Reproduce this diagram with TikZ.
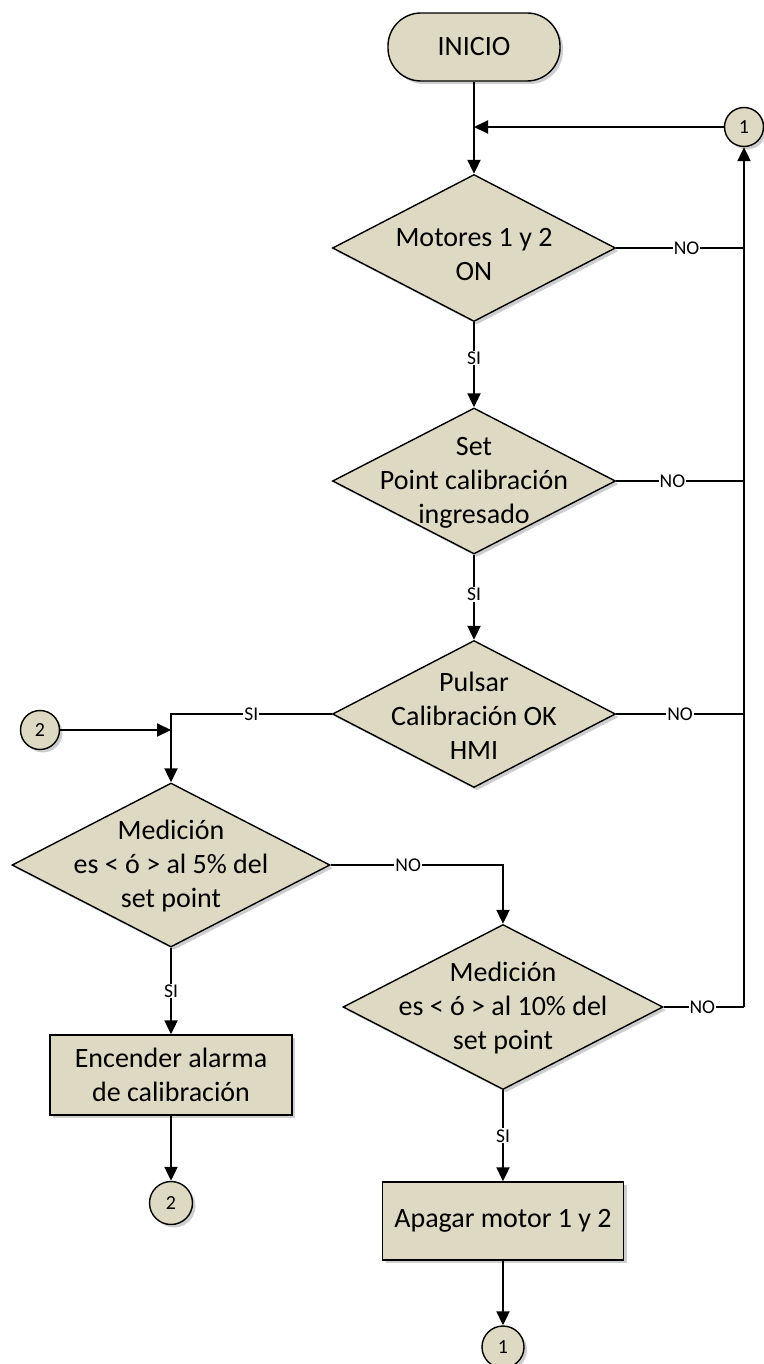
\documentclass[tikz,border=0pt]{standalone}
\usepackage{fontspec}
\setmainfont{Carlito}
\usetikzlibrary{shapes.geometric,arrows.meta,shadows}
\definecolor{tanfill}{HTML}{DDD9C3}
\begin{document}
\begin{tikzpicture}[x=1pt,y=-1pt,
  shp/.style={draw=black, line width=1.4pt, fill=tanfill,
    drop shadow={shadow xshift=3pt, shadow yshift=-3pt, opacity=0.35, fill=black!55}},
  diam/.style={shp, diamond, inner sep=0pt},
  term/.style={shp, rectangle, rounded corners=33pt, minimum width=172pt, minimum height=68pt, inner sep=0pt},
  proc/.style={shp, rectangle, inner sep=0pt},
  conn/.style={shp, circle, minimum size=39pt, inner sep=0pt, font=\fontsize{20}{22}\selectfont},
  txt/.style={align=center, font=\fontsize{28}{34}\selectfont, inner sep=0pt},
  line/.style={draw=black, line width=2.1pt},
  arr/.style={line, -{Triangle[length=14pt,width=13pt]}},
  lbl/.style={fill=white, inner sep=1pt, font=\fontsize{19.5}{21}\selectfont}
]
\useasboundingbox (0,0) rectangle (763,1364);
\coordinate (rail) at (744,0);

% nodes
\node[term, txt] (ini) at (474,47) {INICIO};
\node[conn] (c1a) at (744,127) {1};
\node[diam, minimum width=283pt, minimum height=147pt] (d1) at (474,248) {};
\node[txt] at (474,255) {Motores 1 y 2\\ON};
\node[diam, minimum width=283pt, minimum height=146pt] (d2) at (474,481) {};
\node[txt] at (474,483) {Set\\Point calibración\\ingresado};
\node[diam, minimum width=283pt, minimum height=147pt] (d3) at (474,714) {};
\node[txt] at (474,716) {Pulsar\\Calibración OK\\HMI};
\node[conn] (c2a) at (40,730) {2};
\node[diam, minimum width=318pt, minimum height=164pt] (d4) at (171,865) {};
\node[txt] at (171,866) {Medición\\es < ó > al 5\% del\\set point};
\node[diam, minimum width=320pt, minimum height=165pt] (d5) at (503,1007) {};
\node[txt] at (503,1008) {Medición\\es < ó > al 10\% del\\set point};
\node[proc, minimum width=242pt, minimum height=80pt, txt] (enc) at (171,1075) {Encender alarma\\de calibración};
\node[conn, minimum size=43pt] (c2b) at (171,1203) {2};
\node[proc, minimum width=241pt, minimum height=78pt, txt] (apa) at (503,1221) {Apagar motor 1 y 2};
\node[conn, minimum size=42pt] (c1b) at (503,1347) {1};

\coordinate (j1) at (474,127);

% connectors
\draw[arr] (ini) -- (d1);
\draw[arr] (c1a) -- (j1);
\draw[line] (d1.east) -- node[lbl,pos=0.55]{NO} (d1.east -| rail);
\draw[line] (d2.east) -- node[lbl,pos=0.44]{NO} (d2.east -| rail);
\draw[line] (d3.east) -- node[lbl,pos=0.5]{NO} (d3.east -| rail);
\draw[line] (d5.east) -- node[lbl,pos=0.48]{NO} (d5.east -| rail);
\draw[arr] (d5.east -| rail) -- (c1a);
\draw[arr] (d1) -- node[lbl,pos=0.42]{SI} (d2);
\draw[arr] (d2) -- node[lbl,pos=0.47]{SI} (d3);
\draw[arr] (d3.west) -- node[lbl]{SI} (d3.west -| d4.north) -- (d4.north);
\draw[arr] (c2a) -- (c2a -| d4.north);
\draw[arr] (d4.east) -- node[lbl,pos=0.45]{NO} (d4.east -| d5.north) -- (d5.north);
\draw[arr] (d4) -- node[lbl]{SI} (enc);
\draw[arr] (enc) -- (c2b);
\draw[arr] (d5) -- node[lbl]{SI} (apa);
\draw[arr] (apa) -- (c1b);
\end{tikzpicture}
\end{document}
